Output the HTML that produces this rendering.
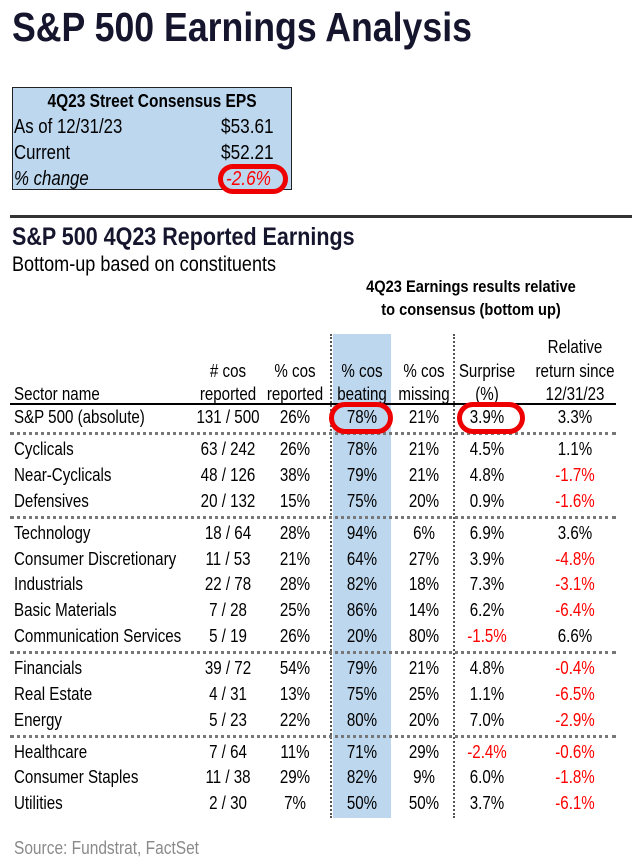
<!DOCTYPE html>
<html><head><meta charset="utf-8"><style>
body{margin:0;width:632px;height:866px;background:#fff;position:relative;overflow:hidden;font-family:"Liberation Sans",Arial,sans-serif;color:#000}
.a{position:absolute;white-space:nowrap}
.c{position:absolute;width:120px;text-align:center;transform:scaleX(.84);font-size:18px;line-height:20px;white-space:nowrap}
.l{position:absolute;left:14px;transform:scaleX(.84);transform-origin:left center;font-size:18px;line-height:20px;white-space:nowrap}
.r{color:#ff0000}
.dot{position:absolute;left:10px;width:606px;height:0;border-top:3px dotted #777}
.oval{position:absolute;border:5px solid #e00;border-radius:16px;box-sizing:border-box}
</style></head><body>
<div class="a" style="left:12px;top:2px;font-size:41px;font-weight:bold;color:#15152e;transform:scaleX(.87);transform-origin:left top;line-height:50px">S&amp;P 500 Earnings Analysis</div>

<div class="a" style="left:12px;top:87px;width:280px;height:103px;background:#bdd7ee;border:1.5px solid #222;box-sizing:border-box"></div>
<div class="a" style="left:12px;top:91px;width:280px;text-align:center;font-weight:bold;font-size:18px;transform:scaleX(.86)">4Q23 Street Consensus EPS</div>
<div class="l" style="top:117px;font-size:20px">As of 12/31/23</div>
<div class="a" style="left:221px;top:116px;font-size:20px;transform:scaleX(.86);transform-origin:left">$53.61</div>
<div class="l" style="top:143px;font-size:20px">Current</div>
<div class="a" style="left:221px;top:142px;font-size:20px;transform:scaleX(.86);transform-origin:left">$52.21</div>
<div class="l" style="top:169px;font-size:20px;font-style:italic">% change</div>
<div class="a r" style="left:226px;top:168px;font-size:20px;font-style:italic;transform:scaleX(.86);transform-origin:left">-2.6%</div>
<div class="oval" style="left:218px;top:164px;width:70px;height:30px;border-radius:15px"></div>

<div class="a" style="left:10px;top:215px;width:622px;height:3px;background:#333"></div>
<div class="a" style="left:12px;top:223px;font-size:25px;font-weight:bold;color:#15152e;transform:scaleX(.86);transform-origin:left">S&amp;P 500 4Q23 Reported Earnings</div>
<div class="a" style="left:12px;top:253px;font-size:21px;transform:scaleX(.86);transform-origin:left">Bottom-up based on constituents</div>
<div class="a" style="left:321px;top:275px;width:300px;text-align:center;font-size:17px;font-weight:bold;line-height:23px;transform:scaleX(.86)">4Q23 Earnings results relative<br>to consensus (bottom up)</div>

<div class="a" style="left:333px;top:334px;width:58px;height:484px;background:#bdd7ee"></div>
<div class="a" style="left:330px;top:334px;height:484px;border-left:2px dotted #555"></div>
<div class="a" style="left:453px;top:334px;height:484px;border-left:2px dotted #555"></div>

<div class="c" style="left:515px;top:337px">Relative</div>
<div class="c" style="left:168px;top:361px">#&nbsp;cos</div>
<div class="c" style="left:235px;top:361px">% cos</div>
<div class="c" style="left:302px;top:361px">% cos</div>
<div class="c" style="left:364px;top:361px">% cos</div>
<div class="c" style="left:427px;top:361px">Surprise</div>
<div class="c" style="left:515px;top:361px">return since</div>
<div class="l" style="top:384px">Sector name</div>
<div class="c" style="left:168px;top:384px">reported</div>
<div class="c" style="left:235px;top:384px">reported</div>
<div class="c" style="left:302px;top:384px">beating</div>
<div class="c" style="left:364px;top:384px">missing</div>
<div class="c" style="left:427px;top:384px">(%)</div>
<div class="c" style="left:515px;top:384px">12/31/23</div>
<div class="a" style="left:10px;top:403px;width:606px;height:2px;background:#000"></div>
<div class="dot" style="top:432px"></div>
<div class="dot" style="top:516px"></div>
<div class="dot" style="top:651px"></div>
<div class="dot" style="top:735px"></div>

<div id="rows"></div>
<div class="oval" style="left:329px;top:402px;width:64px;height:32px"></div>
<div class="oval" style="left:457px;top:402px;width:68px;height:32px"></div>

<div class="a" style="left:14px;top:838px;font-size:18px;color:#8a8a8a;transform:scaleX(.86);transform-origin:left">Source: Fundstrat, FactSet</div>

<script>
var d=[[417,"S&P 500 (absolute)","131 / 500","26%","78%","21%","3.9%","3.3%"],
[449,"Cyclicals","63 / 242","26%","78%","21%","4.5%","1.1%"],
[475,"Near-Cyclicals","48 / 126","38%","79%","21%","4.8%","-1.7%"],
[501,"Defensives","20 / 132","15%","75%","20%","0.9%","-1.6%"],
[533,"Technology","18 / 64","28%","94%","6%","6.9%","3.6%"],
[559,"Consumer Discretionary","11 / 53","21%","64%","27%","3.9%","-4.8%"],
[584,"Industrials","22 / 78","28%","82%","18%","7.3%","-3.1%"],
[610,"Basic Materials","7 / 28","25%","86%","14%","6.2%","-6.4%"],
[636,"Communication Services","5 / 19","26%","20%","80%","-1.5%","6.6%"],
[668,"Financials","39 / 72","54%","79%","21%","4.8%","-0.4%"],
[694,"Real Estate","4 / 31","13%","75%","25%","1.1%","-6.5%"],
[720,"Energy","5 / 23","22%","80%","20%","7.0%","-2.9%"],
[752,"Healthcare","7 / 64","11%","71%","29%","-2.4%","-0.6%"],
[777,"Consumer Staples","11 / 38","29%","82%","9%","6.0%","-1.8%"],
[803,"Utilities","2 / 30","7%","50%","50%","3.7%","-6.1%"]];
var xs=[168,235,302,364,427,515],h="";
d.forEach(function(r){var t=r[0]-10;h+='<div class="l" style="top:'+t+'px">'+r[1].replace("&","&amp;")+'</div>';
for(var i=0;i<6;i++){var v=r[i+2];h+='<div class="c'+(v[0]=="-"?" r":"")+'" style="left:'+xs[i]+'px;top:'+t+'px">'+v+'</div>';}});
document.getElementById("rows").innerHTML=h;
</script>
</body></html>
